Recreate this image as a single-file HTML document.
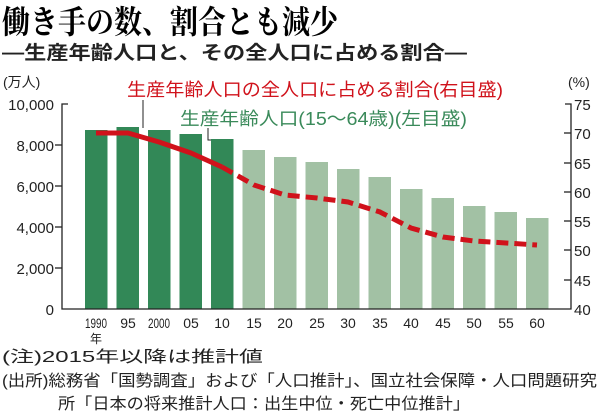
<!DOCTYPE html>
<html><head><meta charset="utf-8"><style>
html,body{margin:0;padding:0;background:#fff;}
body{width:600px;height:415px;overflow:hidden;position:relative;font-family:"Liberation Sans","Noto Sans CJK JP",sans-serif;}
</style></head><body>
<svg width="600" height="415" xmlns="http://www.w3.org/2000/svg" style="position:absolute;left:0;top:0">
<text x="2" y="33" font-family="Liberation Serif,Noto Serif CJK SC,serif" font-weight="bold" font-size="32" fill="#000" textLength="336" lengthAdjust="spacingAndGlyphs">働き手の数、割合とも減少</text>
<text x="2" y="59" font-family="Liberation Sans,Noto Sans CJK JP,sans-serif" font-weight="bold" font-size="19" fill="#222" textLength="465" lengthAdjust="spacingAndGlyphs">―生産年齢人口と、その全人口に占める割合―</text>
<g font-family="Liberation Sans,Noto Sans CJK JP,sans-serif">
<text x="3" y="87" font-size="14" fill="#222">(万人)</text>
<text x="568" y="87" font-size="14" fill="#222">(%)</text>
<text x="127" y="96" font-size="18" fill="#d0121b" textLength="376" lengthAdjust="spacingAndGlyphs">生産年齢人口の全人口に占める割合(右目盛)</text>
<text x="180" y="125" font-size="18" fill="#3a8a5a" textLength="287" lengthAdjust="spacingAndGlyphs">生産年齢人口(15～64歳)(左目盛)</text>
</g>
<line x1="143" y1="100" x2="143" y2="128" stroke="#222" stroke-width="1"/>
<polyline points="208,128 208,140 214,140" fill="none" stroke="#222" stroke-width="1"/>
<g fill="#328857">
<rect x="85" y="130" width="22.5" height="179"/>
<rect x="116.5" y="127" width="22.5" height="182"/>
<rect x="148" y="130" width="22.5" height="179"/>
<rect x="179.5" y="134" width="22.5" height="175"/>
<rect x="211" y="139" width="22.5" height="170"/>
</g>
<g fill="#a2c1a4">
<rect x="242.5" y="150" width="22.5" height="159"/>
<rect x="274" y="157" width="22.5" height="152"/>
<rect x="305.5" y="162" width="22.5" height="147"/>
<rect x="337" y="169" width="22.5" height="140"/>
<rect x="368.5" y="177" width="22.5" height="132"/>
<rect x="400" y="189" width="22.5" height="120"/>
<rect x="431.5" y="198" width="22.5" height="111"/>
<rect x="463" y="206" width="22.5" height="103"/>
<rect x="494.5" y="212" width="22.5" height="97"/>
<rect x="526" y="218" width="22.5" height="91"/>
</g>
<polyline points="96,133 128,133 159,142 191,153 222,167" fill="none" stroke="#d0121b" stroke-width="5" stroke-linejoin="round"/>
<polyline points="222,167 254,185 285,195 317,198 348,202 380,212 411,228 443,237 474,241 506,243 537,245" fill="none" stroke="#d0121b" stroke-width="5" stroke-dasharray="12,6"/>
<g stroke="#222" stroke-width="1.3" fill="none">
<polyline points="68,104 62,104 62,309 571,309 571,104 565,104"/>
<line x1="55" y1="145" x2="62" y2="145"/>
<line x1="55" y1="186" x2="62" y2="186"/>
<line x1="55" y1="227" x2="62" y2="227"/>
<line x1="55" y1="268" x2="62" y2="268"/>
<line x1="564" y1="133" x2="571" y2="133"/>
<line x1="564" y1="163" x2="571" y2="163"/>
<line x1="564" y1="192" x2="571" y2="192"/>
<line x1="564" y1="221" x2="571" y2="221"/>
<line x1="564" y1="250" x2="571" y2="250"/>
<line x1="564" y1="280" x2="571" y2="280"/>
</g>
<g font-family="Liberation Sans,Noto Sans CJK JP,sans-serif" font-size="15" fill="#222" text-anchor="end">
<text x="54" y="110">10,000</text>
<text x="54" y="151">8,000</text>
<text x="54" y="192">6,000</text>
<text x="54" y="233">4,000</text>
<text x="54" y="274">2,000</text>
<text x="54" y="315">0</text>
</g>
<g font-family="Liberation Sans,Noto Sans CJK JP,sans-serif" font-size="15" fill="#222">
<text x="574" y="110">75</text>
<text x="574" y="139">70</text>
<text x="574" y="169">65</text>
<text x="574" y="198">60</text>
<text x="574" y="227">55</text>
<text x="574" y="256">50</text>
<text x="574" y="286">45</text>
<text x="574" y="315">40</text>
</g>
<g font-family="Liberation Sans,Noto Sans CJK JP,sans-serif" font-size="14" fill="#222" text-anchor="middle">
<text x="96" y="328" textLength="22" lengthAdjust="spacingAndGlyphs">1990</text>
<text x="96" y="343" font-size="12">年</text>
<text x="128" y="328">95</text>
<text x="159" y="328" textLength="22" lengthAdjust="spacingAndGlyphs">2000</text>
<text x="191" y="328">05</text>
<text x="222" y="328">10</text>
<text x="254" y="328">15</text>
<text x="285" y="328">20</text>
<text x="317" y="328">25</text>
<text x="348" y="328">30</text>
<text x="380" y="328">35</text>
<text x="411" y="328">40</text>
<text x="443" y="328">45</text>
<text x="474" y="328">50</text>
<text x="506" y="328">55</text>
<text x="537" y="328">60</text>
</g>
<g font-family="Liberation Sans,Noto Sans CJK JP,sans-serif" font-size="16" fill="#222">
<text x="2" y="362" textLength="261" lengthAdjust="spacingAndGlyphs">(注)2015年以降は推計値</text>
<text x="2" y="386" textLength="595" lengthAdjust="spacingAndGlyphs">(出所)総務省「国勢調査」および「人口推計」、国立社会保障・人口問題研究</text>
<text x="58" y="409" textLength="412" lengthAdjust="spacingAndGlyphs">所「日本の将来推計人口：出生中位・死亡中位推計」</text>
</g>
</svg>
</body></html>
